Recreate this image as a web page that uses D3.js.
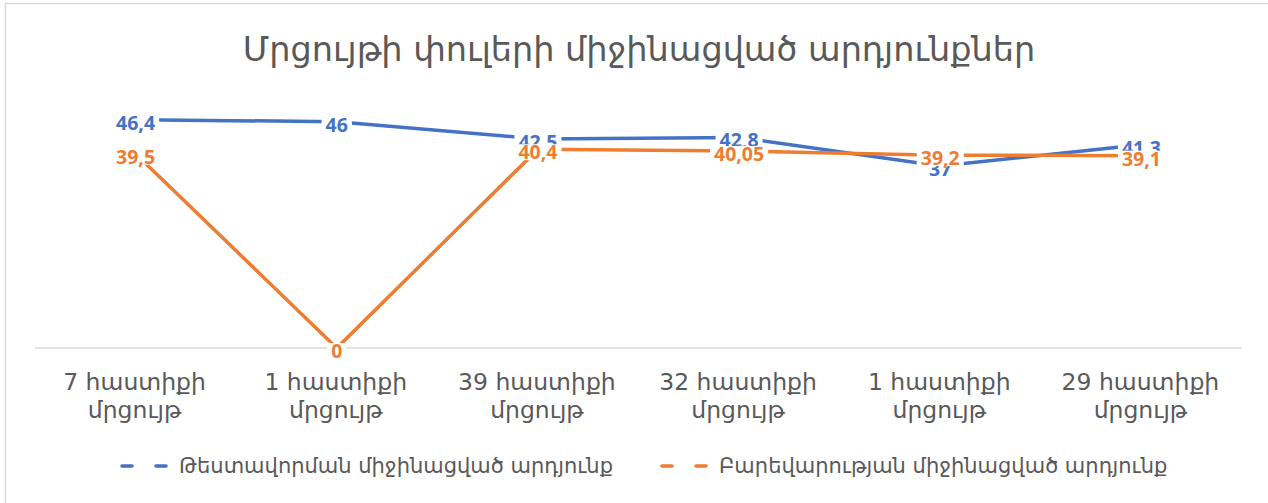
<!DOCTYPE html>
<html>
<head>
<meta charset="utf-8">
<script src="https://cdn.jsdelivr.net/npm/d3@7"></script>
<style>
  body { margin: 0; background: #fff; }
  .title { font-family: "DejaVu Sans", sans-serif; fill: #595959; }
  .cat { font-family: "DejaVu Sans", sans-serif; fill: #595959; }
  .legend-text { font-family: "DejaVu Sans", sans-serif; fill: #595959; }
  .lbl { font-family: "Open Sans", Lato, sans-serif; font-weight: 700; }
</style>
</head>
<body>
<svg id="chart" width="1268" height="503"></svg>
<script>
const TITLE = "Մրցույթի փուլերի միջինացված արդյունքներ";
const categories = [
  ["7 հաստիքի", "մրցույթ"],
  ["1 հաստիքի", "մրցույթ"],
  ["39 հաստիքի", "մրցույթ"],
  ["32 հաստիքի", "մրցույթ"],
  ["1 հաստիքի", "մրցույթ"],
  ["29 հաստիքի", "մրցույթ"]
];
const testValues = [46.4, 46, 42.5, 42.8, 37, 41.3];
const testLabels = ["46,4", "46", "42,5", "42,8", "37", "41,3"];
const reviewValues = [39.5, 0, 40.4, 40.05, 39.2, 39.1];
const reviewLabels = ["39,5", "0", "40,4", "40,05", "39,2", "39,1"];
const seriesNames = [
  "Թեստավորման միջինացված արդյունք",
  "Բարեվարության միջինացված արդյունք"
];
const COLOR_BLUE = "#4472C4";
const COLOR_ORANGE = "#ED7D31";

const svg = d3.select("#chart");

// frame (only top/left edges are visible in the reference)
svg.append("path")
  .attr("d", "M5.5,503 L5.5,3.5 L1268,3.5")
  .attr("fill", "none")
  .attr("stroke", "#d9d9d9")
  .attr("stroke-width", 1.5);

const plot = { left: 35, right: 1242, top: 102, bottom: 348 };

const x = d3.scaleBand()
  .domain(d3.range(categories.length))
  .range([plot.left, plot.right]);
const y = d3.scaleLinear().domain([0, 50]).range([plot.bottom, plot.top]);
const cx = i => x(i) + x.bandwidth() / 2;

// title
svg.append("text")
  .attr("class", "title")
  .attr("x", 639)
  .attr("y", 61)
  .attr("text-anchor", "middle")
  .attr("font-size", 33.5)
  .text(TITLE);

// category axis line
svg.append("line")
  .attr("x1", plot.left).attr("x2", plot.right)
  .attr("y1", y(0)).attr("y2", y(0))
  .attr("stroke", "#d9d9d9")
  .attr("stroke-width", 1.5);

// category labels
const catG = svg.append("g");
categories.forEach((lines, i) => {
  const t = catG.append("text")
    .attr("class", "cat")
    .attr("text-anchor", "middle")
    .attr("font-size", 23.5)
    .attr("x", cx(i) - 1)
    .attr("y", 390);
  lines.forEach((s, k) => {
    t.append("tspan").attr("x", cx(i) - 1).attr("dy", k ? 28 : 0).text(s);
  });
});

const line = d3.line().x((d, i) => cx(i)).y(d => y(d));

svg.append("path")
  .datum(testValues)
  .attr("fill", "none")
  .attr("stroke", COLOR_BLUE)
  .attr("stroke-width", 3.5)
  .attr("d", line);

svg.append("path")
  .datum(reviewValues)
  .attr("fill", "none")
  .attr("stroke", COLOR_ORANGE)
  .attr("stroke-width", 3.5)
  .attr("d", line);

// data labels, a little below the points, with a tight white box behind
function drawLabels(values, labels, color) {
  const g = svg.append("g");
  values.forEach((v, i) => {
    const lg = g.append("g");
    const bg = lg.append("rect").attr("fill", "#fff");
    const base = y(v) + 10;
    const t = lg.append("text")
      .attr("class", "lbl")
      .attr("fill", color)
      .attr("font-size", 19.5)
      .attr("text-anchor", "middle")
      .attr("x", cx(i))
      .attr("y", base)
      .text(labels[i]);
    const b = t.node().getBBox();
    bg.attr("x", b.x - 4).attr("y", base - 15)
      .attr("width", b.width + 8).attr("height", 16);
  });
}
drawLabels(testValues, testLabels, COLOR_BLUE);
drawLabels(reviewValues, reviewLabels, COLOR_ORANGE);

// legend
const legend = [
  { name: seriesNames[0], color: COLOR_BLUE, x: 122 },
  { name: seriesNames[1], color: COLOR_ORANGE, x: 662 }
];
legend.forEach(d => {
  svg.append("line")
    .attr("x1", d.x).attr("x2", d.x + 48)
    .attr("y1", 466).attr("y2", 466)
    .attr("stroke", d.color)
    .attr("stroke-width", 3.5)
    .attr("stroke-linecap", "round")
    .attr("stroke-dasharray", "10,24");
  svg.append("text")
    .attr("class", "legend-text")
    .attr("x", d.x + 57)
    .attr("y", 473)
    .attr("font-size", 21)
    .text(d.name);
});
</script>
</body>
</html>
